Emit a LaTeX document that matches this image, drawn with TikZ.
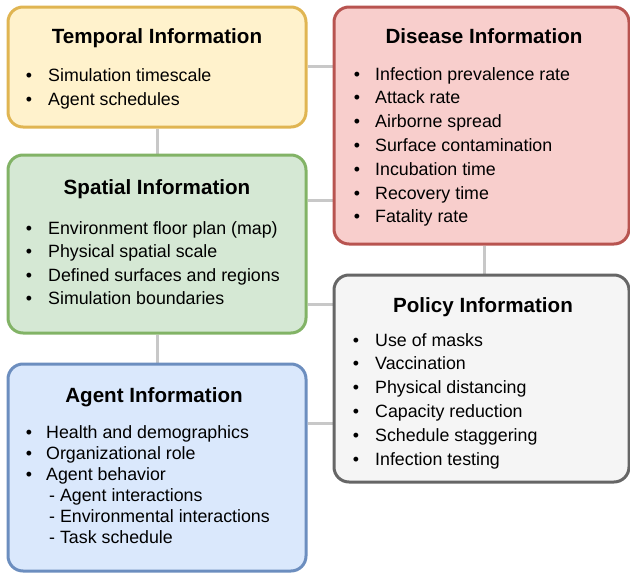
\documentclass[tikz,border=0pt]{standalone}
\usepackage{fontspec}
\setmainfont{Liberation Sans}
\usetikzlibrary{backgrounds}
\definecolor{tempfill}{HTML}{FFF2CC}\definecolor{templine}{HTML}{E0B552}
\definecolor{spafill}{HTML}{D5E8D4}\definecolor{spaline}{HTML}{82B366}
\definecolor{agfill}{HTML}{DAE8FC}\definecolor{agline}{HTML}{6C8EBF}
\definecolor{disfill}{HTML}{F8CECC}\definecolor{disline}{HTML}{B85450}
\definecolor{polfill}{HTML}{F5F5F5}\definecolor{polline}{HTML}{666666}
\definecolor{linkgray}{HTML}{C8C8C8}
\begin{document}
\begin{tikzpicture}[x=1pt,y=-1pt,
  infobox/.style={draw, line width=3pt, rounded corners=15pt, minimum width=#1, inner sep=0pt},
  title/.style={anchor=base, font=\fontsize{20.6}{20.6}\selectfont\bfseries, inner sep=0pt},
  item/.style={anchor=base west, font=\fontsize{17.8}{17.8}\selectfont, inner sep=0pt},
  dot/.style={anchor=base, font=\fontsize{17.8}{17.8}\selectfont, inner sep=0pt},
  link/.style={draw=linkgray, line width=3pt}]
\useasboundingbox (0,0) rectangle (630,573);

% the five information boxes
\node[infobox=298pt, minimum height=120pt, fill=tempfill, draw=templine] (temporal) at (157,67) {};
\node[infobox=298pt, minimum height=178pt, fill=spafill, draw=spaline] (spatial) at (157,244) {};
\node[infobox=298pt, minimum height=207pt, fill=agfill, draw=agline] (agent) at (157,467.5) {};
\node[infobox=295pt, minimum height=237pt, fill=disfill, draw=disline] (disease) at (481.5,125.5) {};
\node[infobox=295pt, minimum height=207pt, fill=polfill, draw=polline] (policy) at (481.5,378.5) {};

% connectors behind the boxes
\begin{scope}[on background layer]
  \draw[link] (temporal.south) -- (spatial.north);
  \draw[link] (spatial.south) -- (agent.north);
  \draw[link] (temporal.east |- 0,66) -- (disease.west |- 0,66);
  \draw[link] (spatial.east |- 0,200) -- (disease.west |- 0,200);
  \draw[link] (spatial.east |- 0,304) -- (policy.west |- 0,304);
  \draw[link] (agent.east |- 0,423) -- (policy.west |- 0,423);
  \draw[link] (disease.south -| 484,0) -- (policy.north -| 484,0);
\end{scope}

% temporal
\node[title] (temporal-title) at (157,43) {Temporal Information};
\foreach \txt [count=\i] in {Simulation timescale, Agent schedules}{
  \node[dot] (temporal-dot-\i) at (29,81+24*\i-24) {•};
  \node[item] (temporal-item-\i) at (48,81+24*\i-24) {\txt};
}

% spatial
\node[title] (spatial-title) at (157,194) {Spatial Information};
\foreach \txt [count=\i] in {Environment floor plan (map), Physical spatial scale,
    Defined surfaces and regions, Simulation boundaries}{
  \node[dot] (spatial-dot-\i) at (29,234+23.5*\i-23.5) {•};
  \node[item] (spatial-item-\i) at (48,234+23.5*\i-23.5) {\txt};
}

% agent
\node[title] (agent-title) at (154,402) {Agent Information};
\foreach \txt [count=\i] in {Health and demographics, Organizational role, Agent behavior}{
  \node[dot] (agent-dot-\i) at (29,438+21.2*\i-21.2) {•};
  \node[item] (agent-item-\i) at (46,438+21.2*\i-21.2) {\txt};
}
\foreach \txt [count=\i] in {- Agent interactions, - Environmental interactions, - Task schedule}{
  \node[item] (agent-sub-\i) at (49,501.6+21*\i-21) {\txt};
}

% disease
\node[title] (disease-title) at (484,43) {Disease Information};
\foreach \txt [count=\i] in {Infection prevalence rate, Attack rate, Airborne spread,
    Surface contamination, Incubation time, Recovery time, Fatality rate}{
  \node[dot] (disease-dot-\i) at (357,80+23.8*\i-23.8) {•};
  \node[item] (disease-item-\i) at (375,80+23.8*\i-23.8) {\txt};
}

% policy
\node[title] (policy-title) at (483,312) {Policy Information};
\foreach \txt [count=\i] in {Use of masks, Vaccination, Physical distancing,
    Capacity reduction, Schedule staggering, Infection testing}{
  \node[dot] (policy-dot-\i) at (356,346+23.8*\i-23.8) {•};
  \node[item] (policy-item-\i) at (375,346+23.8*\i-23.8) {\txt};
}
\end{tikzpicture}
\end{document}
